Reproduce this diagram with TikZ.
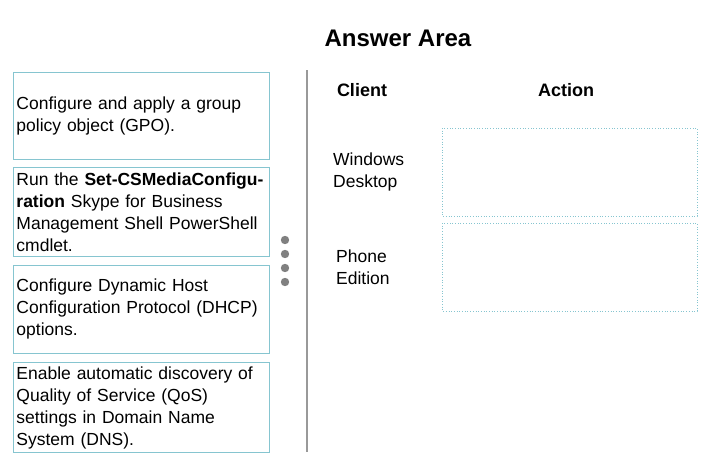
\documentclass[tikz,border=0pt]{standalone}
\usepackage{fontspec}
\setmainfont{Liberation Sans}
\begin{document}
\begin{tikzpicture}[x=1pt,y=-1pt,
  txt/.style={font=\fontsize{17.5}{22}\selectfont},
  hdr/.style={font=\fontsize{18}{22}\selectfont\bfseries},
  optbox/.style={draw=boxc, line width=0.9pt, minimum width=256pt, text width=250pt, inner xsep=3pt, inner ysep=4pt, align=left, anchor=north west, txt},
  slot/.style={draw=boxc, dotted, line width=0.7pt},
  dotc/.style={fill=dotg, draw=none}
]
\definecolor{boxc}{HTML}{86C5D0}
\definecolor{dotg}{HTML}{808080}
\definecolor{sepg}{HTML}{999999}
\useasboundingbox (0,0) rectangle (718,464);
\node[font=\fontsize{24}{28}\selectfont\bfseries] (title) at (398,38) {Answer Area};

\node[optbox, minimum height=87pt] (o1) at (13,72) {Configure and apply a group\\policy object (GPO).};
\node[optbox, minimum height=89pt] (o2) at (13,167) {Run the \textbf{Set-CSMediaConfigu-}\\\textbf{ration} Skype for Business\\Management Shell PowerShell\\cmdlet.};
\node[optbox, minimum height=88pt] (o3) at (13,265) {Configure Dynamic Host\\Configuration Protocol (DHCP)\\options.};
\node[optbox, minimum height=88pt] (o4) at (13,362) {Enable automatic discovery of\\Quality of Service (QoS)\\settings in Domain Name\\System (DNS).};

\foreach \yy/\nm in {240/d1,254/d2,268/d3,282/d4}
  \fill[dotc] (285,\yy) circle (4.2) coordinate (\nm);

\coordinate (s1) at (307,70);
\coordinate (s2) at (307,452);
\draw[sepg, line width=2pt] (s1) -- (s2);

\node[hdr] (client) at (362,90) {Client};
\node[hdr] (action) at (566,90) {Action};

\node[txt, align=left, anchor=west, inner sep=0pt] (win) at (333,172) {Windows\\Desktop};
\node[txt, align=left, anchor=west, inner sep=0pt] (phone) at (336,267) {Phone\\Edition};

\draw[slot] (442,128) rectangle (697,216);
\draw[slot] (442,223) rectangle (697,311);
\end{tikzpicture}
\end{document}
